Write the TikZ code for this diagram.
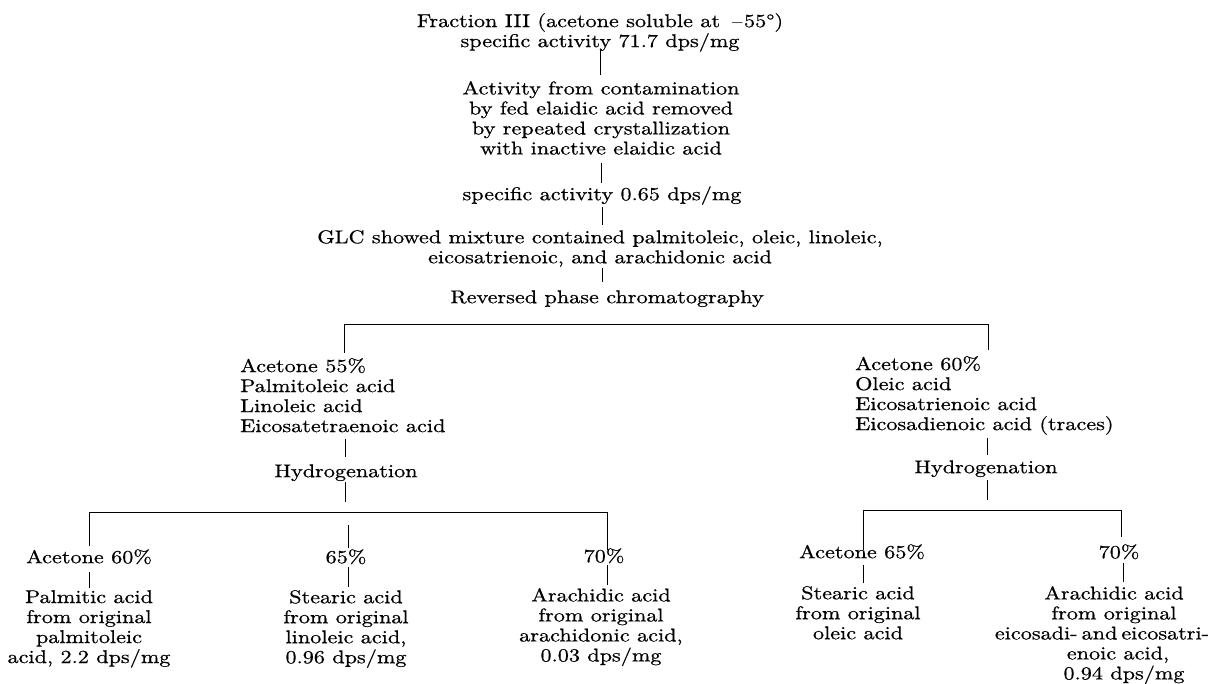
\documentclass[tikz,border=0pt]{standalone}
\usepackage{fontspec}
\setmainfont{lmroman10-regular.otf}[FakeStretch=1.2, FakeBold=0.6]
\usetikzlibrary{calc}
\tikzset{
  txt/.style={inner sep=0pt, align=center, anchor=north, font=\fontsize{18.5}{20}\selectfont,
    execute at begin node=\strut, execute at end node=\strut},
  ltxt/.style={txt, align=left, anchor=north west},
  conn/.style={line width=1pt, black}
}
\begin{document}
\begin{tikzpicture}[x=1pt,y=1pt]
\useasboundingbox (0,0) rectangle (1215,-684);
\fill[white] (0,0) rectangle (1215,-684);

% nodes
\node[txt] (top) at (600,-13) {Fraction III (acetone soluble at \,$-$55°)\\specific activity 71.7 dps/mg};
\node[txt] (act) at (601,-81) {Activity from contamination\\by fed elaidic acid removed\\by repeated crystallization\\with inactive elaidic acid};
\node[txt] (sa2) at (602,-186) {specific activity 0.65 dps/mg};
\node[txt] (glc) at (600,-230) {GLC showed mixture contained palmitoleic, oleic, linoleic,\\eicosatrienoic, and arachidonic acid};
\node[txt] (rp) at (607,-289) {Reversed phase chromatography};
\node[ltxt] (a55) at (240,-358) {Acetone 55\%\\Palmitoleic acid\\Linoleic acid\\Eicosatetraenoic acid};
\node[ltxt] (a60) at (855,-356) {Acetone 60\%\\Oleic acid\\Eicosatrienoic acid\\Eicosadienoic acid (traces)};
\node[txt] (hL) at (346,-463) {Hydrogenation};
\node[txt] (hR) at (986,-459) {Hydrogenation};
\node[txt] (pA) at (89,-549) {Acetone 60\%};
\node[txt] (p65) at (346,-549) {65\%};
\node[txt] (p70) at (604,-548) {70\%};
\node[txt] (qA) at (862,-544) {Acetone 65\%};
\node[txt] (q70) at (1119,-544) {70\%};
\node[txt] (palm) at (89,-590) {Palmitic acid\\from original\\palmitoleic\\acid, 2.2 dps/mg};
\node[txt] (stL) at (346,-590) {Stearic acid\\from original\\linoleic acid,\\0.96 dps/mg};
\node[txt] (arL) at (601,-588) {Arachidic acid\\from original\\arachidonic acid,\\0.03 dps/mg};
\node[txt] (stR) at (858,-586) {Stearic acid\\from original\\oleic acid};
\node[txt] (arR) at (1114,-586) {Arachidic acid\\from original\\eicosadi-\hspace{4pt}and\hspace{4pt}eicosatri-\hspace*{24pt}\mbox{}\\\hspace*{8pt}enoic acid,\\\hspace*{20pt}0.94 dps/mg};

% main chain
\draw[conn] ($(top.south)+(0,3)$) -- ($(top.south |- act.north)+(0,6)$);
\draw[conn] ($(act.south)+(0,-2)$) -- ($(act.south |- sa2.north)+(0,3)$);
\draw[conn] ($(sa2.south)+(0,-1)$) -- ($(sa2.south |- glc.north)+(0,5)$);
\draw[conn] ($(glc.south)+(2,1)$) -- ($(glc.south |- rp.north)+(2,7)$);

% bracket 1
\coordinate (b1L) at (344,-325);
\coordinate (b1R) at (988,-325);
\draw[conn] ($(b1L |- a55.north)+(0,5)$) -- (b1L) -- (b1R) -- ($(b1R |- a60.north)+(0,6)$);

% left branch
\draw[conn] ($(hL.north |- a55.south)+(-1,-1)$) -- ($(hL.north)+(-1,6)$);
\coordinate (b2L) at (89,-512);
\coordinate (b2R) at (607,-512);
\draw[conn] ($(hL.south)+(-1,1)$) -- ($(hL.south |- b2L)+(-1,10)$);
\draw[conn] ($(b2L |- pA.north)+(0,3)$) -- (b2L) -- (b2R) -- ($(b2R |- p70.north)+(0,-2)$);
\draw[conn] ($(p65.north |- b2L)+(2,-13)$) -- ($(p65.north)+(2,1)$);
\draw[conn] ($(pA.south)+(0,-3)$) -- ($(pA.south |- palm.north)+(0,2)$);
\draw[conn] ($(p65.south)+(2,2)$) -- ($(p65.south |- stL.north)+(2,3)$);
\draw[conn] ($(p70.south)+(3,3)$) -- ($(p70.south |- arL.north)+(3,3)$);

% right branch
\draw[conn] ($(hR.north |- a60.south)+(1,-2)$) -- ($(hR.north)+(1,4)$);
\coordinate (b3L) at (863,-510);
\coordinate (b3R) at (1121,-510);
\draw[conn] ($(hR.south)+(1,-1)$) -- ($(hR.south |- b3L)+(1,10)$);
\draw[conn] ($(b3L |- qA.north)+(0,-6)$) -- (b3L) -- (b3R) -- ($(b3R |- q70.north)+(0,7)$);
\draw[conn] ($(qA.south)+(1,-1)$) -- ($(qA.south |- stR.north)+(1,3)$);
\draw[conn] ($(q70.south)+(4,1)$) -- ($(q70.south |- arR.north)+(4,4)$);
\end{tikzpicture}
\end{document}
